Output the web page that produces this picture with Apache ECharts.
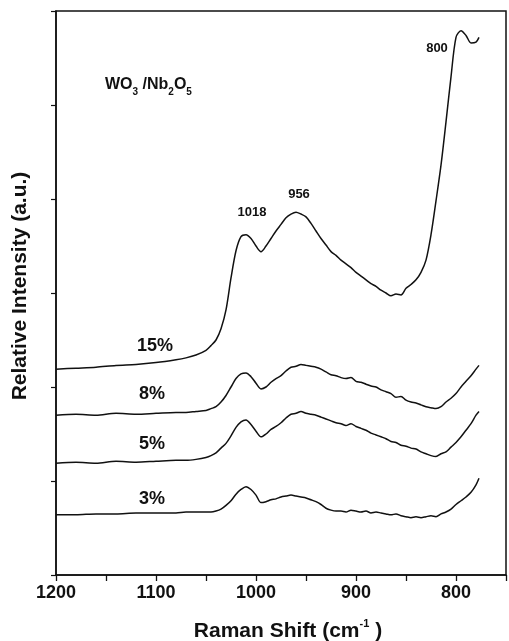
<!DOCTYPE html>
<html>
<head>
<meta charset="utf-8">
<script src="https://cdn.jsdelivr.net/npm/echarts@6/dist/echarts.min.js"></script>
<style>
  html, body { margin: 0; padding: 0; background: #fff; }
  #chart { width: 509px; height: 641px; }
</style>
</head>
<body>
<div id="chart"></div>
<script>
// Raman shift (cm-1)
const shifts = [1200, 1180, 1160, 1140, 1120, 1100, 1080, 1070, 1060, 1050, 1045, 1040, 1035, 1030, 1025,
  1020, 1015, 1010, 1005, 1000, 995, 990, 985, 980, 975, 970, 965, 960, 955, 950, 945, 940, 935, 930,
  925, 920, 915, 910, 905, 900, 895, 890, 885, 880, 875, 870, 865, 860, 855, 850, 845, 840, 835, 830,
  825, 820, 815, 810, 805, 800, 795, 790, 785, 780, 777];

// relative intensity (a.u.), offset stacks as drawn
const int15 = [2.19, 2.20, 2.21, 2.23, 2.24, 2.26, 2.29, 2.31, 2.34, 2.39, 2.44, 2.50, 2.62, 2.82, 3.16,
  3.45, 3.60, 3.62, 3.58, 3.50, 3.44, 3.50, 3.58, 3.66, 3.73, 3.80, 3.84, 3.86, 3.84, 3.81, 3.74, 3.66,
  3.58, 3.51, 3.44, 3.40, 3.35, 3.31, 3.27, 3.22, 3.18, 3.14, 3.10, 3.07, 3.03, 3.00, 2.97, 2.99, 2.98,
  3.05, 3.09, 3.14, 3.22, 3.35, 3.62, 3.98, 4.36, 4.82, 5.30, 5.72, 5.79, 5.74, 5.66, 5.67, 5.72];
const int8 = [1.70, 1.71, 1.70, 1.72, 1.71, 1.72, 1.73, 1.73, 1.74, 1.75, 1.77, 1.79, 1.84, 1.91, 2.00,
  2.09, 2.14, 2.15, 2.11, 2.04, 1.98, 2.00, 2.05, 2.09, 2.12, 2.17, 2.21, 2.22, 2.24, 2.23, 2.22, 2.21,
  2.19, 2.16, 2.13, 2.12, 2.10, 2.09, 2.10, 2.06, 2.05, 2.03, 2.01, 2.00, 1.97, 1.95, 1.93, 1.89, 1.90,
  1.86, 1.84, 1.83, 1.81, 1.79, 1.78, 1.77, 1.79, 1.84, 1.88, 1.93, 2.00, 2.06, 2.12, 2.19, 2.23];
const int5 = [1.19, 1.20, 1.19, 1.21, 1.20, 1.21, 1.22, 1.22, 1.23, 1.25, 1.27, 1.30, 1.35, 1.40, 1.48,
  1.57, 1.63, 1.65, 1.60, 1.53, 1.47, 1.50, 1.55, 1.58, 1.62, 1.67, 1.71, 1.72, 1.74, 1.72, 1.71, 1.70,
  1.68, 1.66, 1.64, 1.62, 1.61, 1.59, 1.61, 1.58, 1.56, 1.54, 1.51, 1.49, 1.47, 1.45, 1.42, 1.41, 1.38,
  1.37, 1.35, 1.34, 1.31, 1.29, 1.27, 1.26, 1.29, 1.31, 1.36, 1.41, 1.47, 1.54, 1.61, 1.70, 1.74];
const int3 = [0.64, 0.64, 0.65, 0.65, 0.66, 0.66, 0.66, 0.67, 0.67, 0.67, 0.67, 0.68, 0.70, 0.74, 0.79,
  0.86, 0.91, 0.94, 0.91, 0.85, 0.77, 0.78, 0.80, 0.81, 0.83, 0.84, 0.85, 0.84, 0.83, 0.82, 0.80, 0.78,
  0.75, 0.71, 0.69, 0.68, 0.68, 0.67, 0.69, 0.68, 0.67, 0.68, 0.66, 0.67, 0.66, 0.65, 0.64, 0.65, 0.63,
  0.62, 0.61, 0.62, 0.61, 0.62, 0.63, 0.62, 0.65, 0.67, 0.70, 0.75, 0.79, 0.83, 0.88, 0.96, 1.03];

const loadings = ['15%', '8%', '5%', '3%'];
const spectra = [int15, int8, int5, int3];

const FONT = '"Liberation Sans", Arial, sans-serif';

let myChart = echarts.init(document.getElementById('chart'));

let series = spectra.map(function (vals, i) {
  return {
    name: loadings[i],
    type: 'line',
    showSymbol: false,
    smooth: 0.3,
    animation: false,
    lineStyle: { color: '#111', width: 1.5 },
    data: shifts.map(function (x, k) { return [x, vals[k]]; })
  };
});

let option = {
  backgroundColor: '#fff',
  grid: { left: 56, right: 2, top: 11, bottom: 66, show: true, borderColor: '#111', borderWidth: 1.5 },
  xAxis: {
    type: 'value',
    inverse: true,
    min: 750,
    max: 1200,
    interval: 50,
    splitLine: { show: false },
    axisLine: { show: true, lineStyle: { color: '#111', width: 1.5 } },
    axisTick: { show: true, inside: false, length: 6, lineStyle: { color: '#111', width: 1.3 } },
    axisLabel: {
      margin: 9,
      color: '#111',
      fontSize: 18,
      fontWeight: 'bold',
      fontFamily: FONT,
      formatter: function (v) { return v % 100 === 0 ? String(v) : ''; }
    }
  },
  yAxis: {
    type: 'value',
    min: 0,
    max: 6,
    interval: 1,
    splitLine: { show: false },
    axisLine: { show: true, lineStyle: { color: '#111', width: 1.5 } },
    axisTick: { show: true, inside: false, length: 5, lineStyle: { color: '#111', width: 1.2 } },
    axisLabel: { show: false }
  },
  graphic: [
    {
      type: 'text', x: 20, y: 286, rotation: Math.PI / 2,
      style: {
        text: 'Relative Intensity (a.u.)', fill: '#111',
        font: 'bold 21px ' + FONT, align: 'center', verticalAlign: 'middle'
      }
    },
    {
      type: 'text', x: 288, y: 630,
      style: {
        text: '{m|Raman Shift (cm}{s|-1}{m| )}', fill: '#111', align: 'center', verticalAlign: 'middle',
        rich: {
          m: { fontSize: 21, fontWeight: 'bold', fontFamily: FONT, fill: '#111', lineHeight: 24, verticalAlign: 'bottom' },
          s: { fontSize: 11, fontWeight: 'bold', fontFamily: FONT, fill: '#111', lineHeight: 24, verticalAlign: 'top' }
        }
      }
    },
    {
      type: 'text', x: 105, y: 87,
      style: {
        text: '{m|WO}{s|3}{m| /Nb}{s|2}{m|O}{s|5}', fill: '#111', align: 'left', verticalAlign: 'middle',
        rich: {
          m: { fontSize: 16, fontWeight: 'bold', fontFamily: FONT, fill: '#111', lineHeight: 20, verticalAlign: 'top' },
          s: { fontSize: 10, fontWeight: 'bold', fontFamily: FONT, fill: '#111', lineHeight: 20, verticalAlign: 'bottom' }
        }
      }
    },
    { type: 'text', x: 252, y: 212, style: { text: '1018', fill: '#111', font: 'bold 13px ' + FONT, align: 'center', verticalAlign: 'middle' } },
    { type: 'text', x: 299, y: 194, style: { text: '956', fill: '#111', font: 'bold 13px ' + FONT, align: 'center', verticalAlign: 'middle' } },
    { type: 'text', x: 437, y: 48, style: { text: '800', fill: '#111', font: 'bold 13px ' + FONT, align: 'center', verticalAlign: 'middle' } },
    { type: 'text', x: 155, y: 346, style: { text: loadings[0], fill: '#111', font: 'bold 18px ' + FONT, align: 'center', verticalAlign: 'middle' } },
    { type: 'text', x: 152, y: 394, style: { text: loadings[1], fill: '#111', font: 'bold 18px ' + FONT, align: 'center', verticalAlign: 'middle' } },
    { type: 'text', x: 152, y: 444, style: { text: loadings[2], fill: '#111', font: 'bold 18px ' + FONT, align: 'center', verticalAlign: 'middle' } },
    { type: 'text', x: 152, y: 499, style: { text: loadings[3], fill: '#111', font: 'bold 18px ' + FONT, align: 'center', verticalAlign: 'middle' } }
  ],
  series: series
};

myChart.setOption(option);
</script>
</body>
</html>
